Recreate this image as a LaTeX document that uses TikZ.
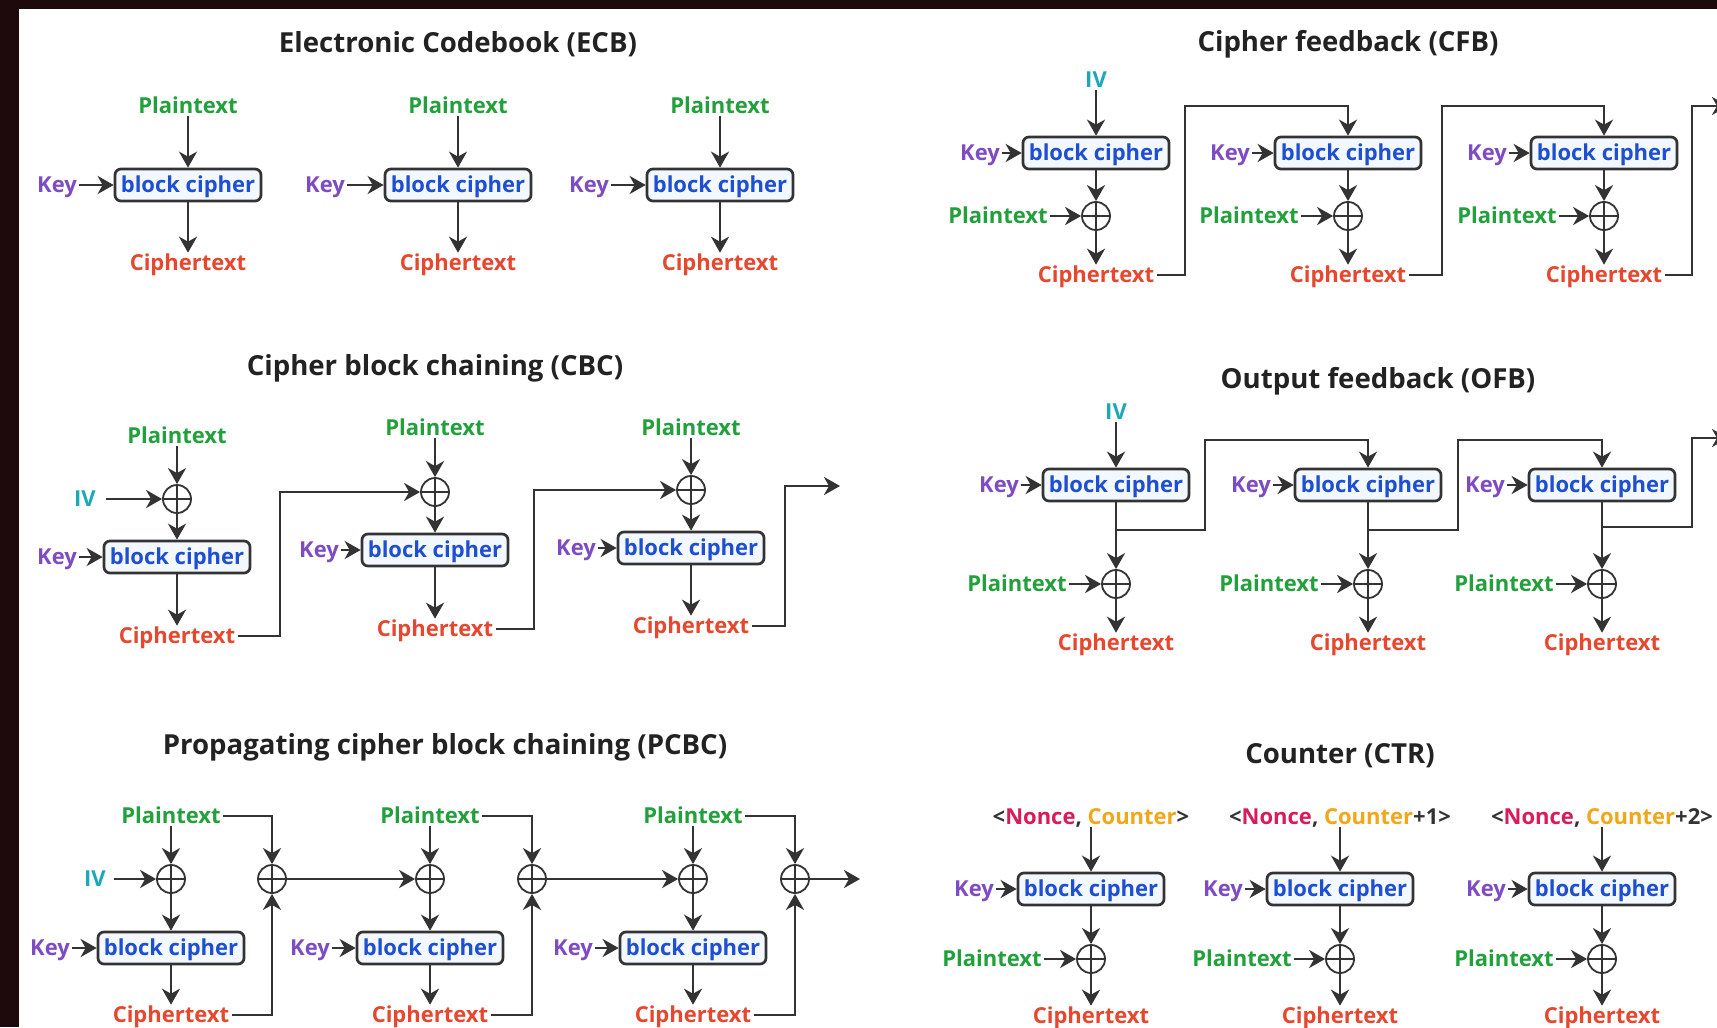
\documentclass[tikz,border=0pt]{standalone}
\usepackage{fontspec}
\setmainfont{Open Sans}
\usetikzlibrary{arrows.meta,calc}

\definecolor{cbg}{HTML}{1E0A0C}
\definecolor{cline}{HTML}{333333}
\definecolor{ctitle}{HTML}{222222}
\definecolor{cgreen}{HTML}{22A03C}
\definecolor{cred}{HTML}{E5472F}
\definecolor{cpurple}{HTML}{7E4CC2}
\definecolor{cblue}{HTML}{1E4FD0}
\definecolor{cteal}{HTML}{1BA8B8}
\definecolor{cnonce}{HTML}{D81B5B}
\definecolor{ccounter}{HTML}{F2A61A}
\definecolor{cbox}{HTML}{F3F8FF}

\tikzset{
  lbl/.style={font=\fontsize{11}{13}\selectfont\bfseries, inner sep=1pt,
              text height=7.9pt, text depth=0pt},
  ptxt/.style={lbl, text=cgreen},
  ctxt/.style={lbl, text=cred},
  ktxt/.style={lbl, text=cpurple},
  ivtxt/.style={lbl, text=cteal},
  ntxt/.style={lbl, text=cline},
  cipherbox/.style={lbl, draw=cline, line width=1.35pt, rounded corners=3pt,
              fill=cbox, text=cblue, minimum width=73pt, minimum height=16pt},
  xorop/.style={circle, draw=cline, line width=0.9pt, minimum size=14pt, inner sep=0pt,
              path picture={\draw[cline, line width=0.7pt]
                (path picture bounding box.north) -- (path picture bounding box.south)
                (path picture bounding box.west) -- (path picture bounding box.east);}},
  ttl/.style={font=\fontsize{13.8}{16}\selectfont\bfseries, text=ctitle},
  flow/.style={draw=cline, line width=1.4pt, -{Stealth[length=8pt,width=9pt,inset=2.5pt]}},
  wire/.style={draw=cline, line width=1.4pt},
}

\begin{document}
\begin{tikzpicture}[x=0.5pt, y=-0.5pt]
\useasboundingbox (0,0) rectangle (1717,1027);
% frame and sheet
\fill[cbg] (0,0) rectangle (1717,1027);
\fill[white] (19,9) rectangle (1717,1027);

% ---------------- Electronic Codebook ----------------
\node[ttl] (ecbT) at (458,44) {Electronic Codebook (ECB)};
\foreach \i/\x/\k in {1/188/57, 2/458/325, 3/720/589}{
  \node[cipherbox] (ecbB\i) at (\x,185) {block cipher};
  \node[ptxt] (ecbP\i) at (\x,106) {Plaintext};
  \node[ctxt] (ecbC\i) at (\x,263) {Ciphertext};
  \node[ktxt] (ecbK\i) at (\k,185) {Key};
  \draw[flow] (ecbP\i) -- (ecbB\i);
  \draw[flow] (ecbB\i) -- (ecbC\i);
  \draw[flow] (ecbK\i) -- (ecbB\i);
}

% ---------------- Cipher feedback ----------------
\node[ttl] (cfbT) at (1348,44) {Cipher feedback (CFB)};
\node[ivtxt] (cfbIV) at (1096,80) {IV};
\foreach \i/\x/\k/\p in {1/1096/980/998, 2/1348/1230/1249, 3/1604/1487/1507}{
  \node[cipherbox] (cfbB\i) at (\x,153) {block cipher};
  \node[ktxt] (cfbK\i) at (\k,153) {Key};
  \node[xorop] (cfbX\i) at (\x,216) {};
  \node[ptxt] (cfbP\i) at (\p,216) {Plaintext};
  \node[ctxt] (cfbC\i) at (\x,275) {Ciphertext};
  \draw[flow] (cfbK\i) -- (cfbB\i);
  \draw[flow] (cfbB\i) -- (cfbX\i);
  \draw[flow] (cfbP\i) -- (cfbX\i);
  \draw[flow] (cfbX\i) -- (cfbC\i);
}
\draw[flow] (cfbIV) -- (cfbB1);
\coordinate (cfbOut) at (1728,106);
\draw[flow] (cfbC1.east) -| (1185,106) -| (cfbB2.north);
\draw[flow] (cfbC2.east) -| (1442,106) -| (cfbB3.north);
\draw[flow] (cfbC3.east) -| (1692,106) -- (cfbOut);

% ---------------- Cipher block chaining ----------------
\node[ttl] (cbcT) at (435,368) {Cipher block chaining (CBC)};
\foreach \i/\x/\py/\xy/\by/\k/\cy in {1/177/436/499/557/57/636,
                                      2/435/428/492/550/319/629,
                                      3/691/428/490/548/576/626}{
  \node[ptxt] (cbcP\i) at (\x,\py) {Plaintext};
  \node[xorop] (cbcX\i) at (\x,\xy) {};
  \node[cipherbox] (cbcB\i) at (\x,\by) {block cipher};
  \node[ktxt] (cbcK\i) at (\k,\by) {Key};
  \node[ctxt] (cbcC\i) at (\x,\cy) {Ciphertext};
  \draw[flow] (cbcP\i) -- (cbcX\i);
  \draw[flow] (cbcX\i) -- (cbcB\i);
  \draw[flow] (cbcK\i) -- (cbcB\i);
  \draw[flow] (cbcB\i) -- (cbcC\i);
}
\node[ivtxt] (cbcIV) at (85,499) {IV};
\draw[flow] ([xshift=4pt]cbcIV.east) -- (cbcX1);
\coordinate (cbcOut) at (840,486);
\draw[flow] (cbcC1.east) -| (280,492) -- (cbcX2);
\draw[flow] (cbcC2.east) -| (534,490) -- (cbcX3);
\draw[flow] (cbcC3.east) -| (785,486) -- (cbcOut);

% ---------------- Output feedback ----------------
\node[ttl] (ofbT) at (1378,381) {Output feedback (OFB)};
\node[ivtxt] (ofbIV) at (1116,412) {IV};
\foreach \i/\x/\k/\p/\j in {1/1116/999/1017/530, 2/1368/1251/1269/530, 3/1602/1485/1504/527}{
  \node[cipherbox] (ofbB\i) at (\x,485) {block cipher};
  \node[ktxt] (ofbK\i) at (\k,485) {Key};
  \node[xorop] (ofbX\i) at (\x,584) {};
  \node[ptxt] (ofbP\i) at (\p,584) {Plaintext};
  \node[ctxt] (ofbC\i) at (\x,643) {Ciphertext};
  \coordinate (ofbJ\i) at (\x,\j);
  \draw[flow] (ofbK\i) -- (ofbB\i);
  \draw[flow] (ofbB\i) -- (ofbX\i);
  \draw[flow] (ofbP\i) -- (ofbX\i);
  \draw[flow] (ofbX\i) -- (ofbC\i);
}
\draw[flow] (ofbIV) -- (ofbB1);
\coordinate (ofbOut) at (1728,438);
\draw[flow] (ofbJ1) -| (1205,440) -| (ofbB2.north);
\draw[flow] (ofbJ2) -| (1458,440) -| (ofbB3.north);
\draw[flow] (ofbJ3) -| (1692,438) -- (ofbOut);

% ---------------- Propagating cipher block chaining ----------------
\node[ttl] (pcbcT) at (445,747) {Propagating cipher block chaining (PCBC)};
\foreach \i/\x/\k/\s in {1/171/50/272, 2/430/310/532, 3/693/573/795}{
  \node[ptxt] (pcbcP\i) at (\x,816) {Plaintext};
  \node[xorop] (pcbcX\i) at (\x,879) {};
  \node[cipherbox] (pcbcB\i) at (\x,948) {block cipher};
  \node[ktxt] (pcbcK\i) at (\k,948) {Key};
  \node[ctxt] (pcbcC\i) at (\x,1015) {Ciphertext};
  \node[xorop] (pcbcS\i) at (\s,879) {};
  \draw[flow] (pcbcP\i) -- (pcbcX\i);
  \draw[flow] (pcbcX\i) -- (pcbcB\i);
  \draw[flow] (pcbcK\i) -- (pcbcB\i);
  \draw[flow] (pcbcB\i) -- (pcbcC\i);
  \draw[flow] (pcbcP\i.east) -| (pcbcS\i);
  \draw[flow] (pcbcC\i.east) -| (pcbcS\i);
}
\node[ivtxt] (pcbcIV) at (95,879) {IV};
\draw[flow] ([xshift=3pt]pcbcIV.east) -- (pcbcX1);
\coordinate (pcbcOut) at (860,879);
\draw[flow] (pcbcS1) -- (pcbcX2);
\draw[flow] (pcbcS2) -- (pcbcX3);
\draw[flow] (pcbcS3) -- (pcbcOut);

% ---------------- Counter ----------------
\node[ttl] (ctrT) at (1340,756) {Counter (CTR)};
\foreach \i/\x/\k/\p/\n in {1/1091/974/992/{},
                            2/1340/1223/1242/{+1},
                            3/1602/1486/1504/{+2}}{
  \node[ntxt] (ctrN\i) at (\x,817)
    {<\textcolor{cnonce}{Nonce}, \textcolor{ccounter}{Counter}\n>};
  \node[cipherbox] (ctrB\i) at (\x,889) {block cipher};
  \node[ktxt] (ctrK\i) at (\k,889) {Key};
  \node[xorop] (ctrX\i) at (\x,959) {};
  \node[ptxt] (ctrP\i) at (\p,959) {Plaintext};
  \node[ctxt] (ctrC\i) at (\x,1016) {Ciphertext};
  \draw[flow] (ctrN\i) -- (ctrB\i);
  \draw[flow] (ctrK\i) -- (ctrB\i);
  \draw[flow] (ctrB\i) -- (ctrX\i);
  \draw[flow] (ctrP\i) -- (ctrX\i);
  \draw[flow] (ctrX\i) -- (ctrC\i);
}
\end{tikzpicture}
\end{document}
